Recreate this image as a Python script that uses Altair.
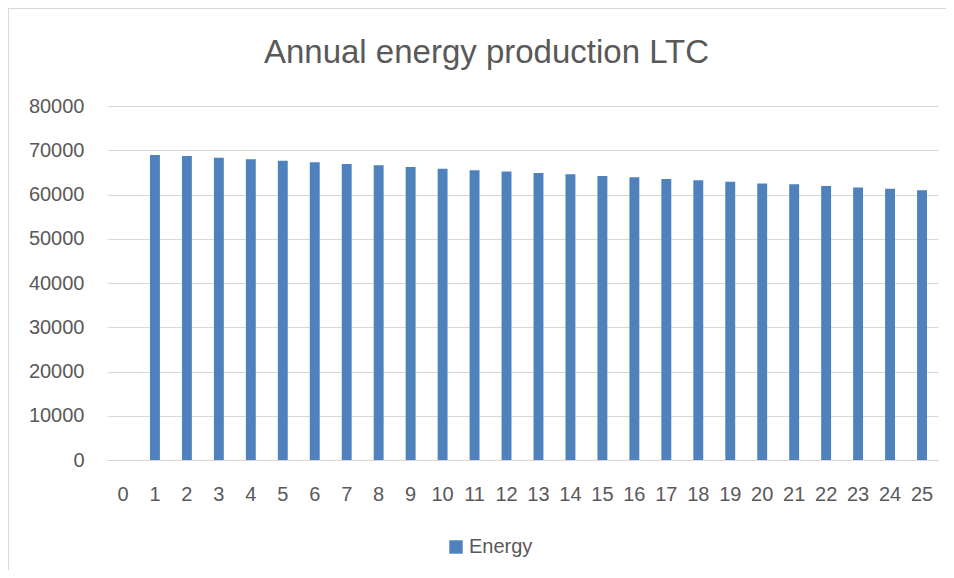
import altair as alt
import pandas as pd

years = list(range(0, 26))
energy = [0, 68930, 68700, 68300, 67950, 67600, 67300, 66900, 66600, 66200, 65800,
          65500, 65200, 64860, 64560, 64180, 63880, 63500, 63200, 62900, 62500,
          62300, 61900, 61600, 61300, 60950]
series = ["Energy"] * len(years)
y_ticks = [0, 10000, 20000, 30000, 40000, 50000, 60000, 70000, 80000]
title_text = ["Annual energy production LTC"]

df = pd.DataFrame({"year": years, "energy": energy, "series": series})
tdf = pd.DataFrame({"t": title_text})

FONT = "Liberation Sans"
GREY = "#595959"
GRID = "#d9d9d9"

bars = alt.Chart(df).mark_bar().encode(
    x=alt.X("year:O", sort=years,
            scale=alt.Scale(domain=years, paddingInner=0.69, paddingOuter=0.345),
            axis=alt.Axis(title=None, labelAngle=0, ticks=False, domain=True,
                          domainColor=GRID, labelPadding=24, labelFontSize=20,
                          labelColor=GREY, labelFont=FONT)),
    y=alt.Y("energy:Q", scale=alt.Scale(domain=[0, 80000], nice=False),
            axis=alt.Axis(title=None, values=y_ticks, format="d", ticks=False,
                          domain=False, gridColor=GRID, labelPadding=23,
                          labelFontSize=20, labelColor=GREY, labelFont=FONT)),
    color=alt.Color("series:N", scale=alt.Scale(domain=["Energy"], range=["#4F81BD"]),
                    legend=alt.Legend(title=None, orient="none", legendX=339, legendY=431,
                                      symbolType="square", symbolSize=180,
                                      symbolStrokeWidth=0, labelFontSize=20,
                                      labelColor=GREY, labelFont=FONT, labelOffset=3,
                                      padding=0)),
)

title = alt.Chart(tdf).mark_text(font=FONT, fontSize=33, color=GREY, align="center",
                                 baseline="alphabetic").encode(
    x=alt.value(379.5), y=alt.value(-43), text="t:N"
)

border_left = alt.Chart(tdf).mark_rule(color=GRID, strokeWidth=2).encode(
    x=alt.value(-99), y=alt.value(-99), y2=alt.value(480)
)
border_top = alt.Chart(tdf).mark_rule(color=GRID, strokeWidth=2).encode(
    x=alt.value(-99), x2=alt.value(860), y=alt.value(-98)
)

chart = alt.layer(border_left, border_top, bars, title).properties(
    width=831,
    height=354,
    autosize=alt.AutoSizeParams(type="none"),
    padding={"left": 99, "top": 98, "right": 8, "bottom": 110},
).configure_view(stroke=None)

chart.save("out.html", embed_options={"renderer": "svg", "actions": False})
